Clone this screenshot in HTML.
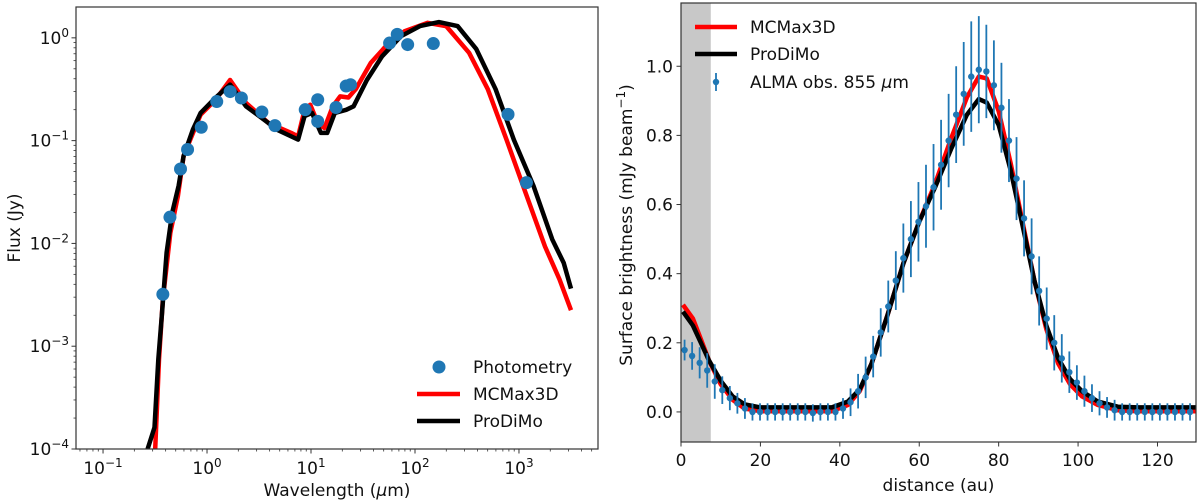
<!DOCTYPE html>
<html><head><meta charset="utf-8"><style>
html,body{margin:0;padding:0;background:#fff;}
svg{display:block;font-family:"DejaVu Sans","Liberation Sans",sans-serif;}
</style></head><body>
<svg id="c" width="1200" height="503" viewBox="0 0 1200 503" xmlns="http://www.w3.org/2000/svg"></svg>
<script>
// ---- SED data (left) ----
const photLam = [0.376,0.44,0.556,0.65,0.88,1.24,1.67,2.14,3.37,4.5,8.8,11.6,11.6,17.4,21.8,24,57,67.5,85,150,785,1180];
const photFlux = [0.0032,0.018,0.053,0.082,0.135,0.24,0.30,0.26,0.19,0.14,0.20,0.25,0.154,0.21,0.34,0.35,0.89,1.08,0.86,0.88,0.18,0.039];
const prodimoLogLam = [-0.571,-0.505,-0.469,-0.433,-0.389,-0.335,-0.273,-0.225,-0.135,-0.062,0.084,0.222,0.375,0.593,0.665,0.876,0.938,1.01,1.095,1.156,1.229,1.338,1.41,1.538,1.684,1.865,2.047,2.23,2.41,2.59,2.775,2.95,3.14,3.32,3.43,3.50];
const prodimoLogFlux = [-4,-3.79,-3.13,-2.68,-2.09,-1.70,-1.44,-1.15,-0.89,-0.73,-0.58,-0.455,-0.666,-0.83,-0.89,-0.99,-0.76,-0.73,-0.925,-0.925,-0.73,-0.70,-0.666,-0.41,-0.18,0.016,0.114,0.153,0.114,-0.11,-0.5,-0.99,-1.44,-1.96,-2.19,-2.44];
const mcmaxLogLam = [-0.498,-0.462,-0.425,-0.353,-0.28,-0.225,-0.135,-0.062,0.084,0.222,0.375,0.593,0.81,0.876,0.938,0.993,1.065,1.13,1.21,1.28,1.36,1.43,1.575,1.72,1.90,2.12,2.30,2.52,2.70,2.88,3.065,3.25,3.39,3.50];
const mcmaxLogFlux = [-4,-3.13,-2.55,-1.90,-1.54,-1.15,-0.925,-0.747,-0.60,-0.41,-0.633,-0.83,-0.925,-0.96,-0.70,-0.65,-0.83,-0.877,-0.666,-0.57,-0.58,-0.50,-0.244,-0.08,0.065,0.146,0.114,-0.146,-0.50,-0.99,-1.51,-2.03,-2.35,-2.65];
const sedXTicks = [-1,0,1,2,3];
const sedYTicks = [-4,-3,-2,-1,0];
// ---- Radial profile data (right) ----
const almaX0 = 0.9, almaStep = 1.9;
const almaVal = [0.179,0.162,0.142,0.12,0.088,0.063,0.04,0.025,0.01,0,0,0,0,0,0,0,0,-0.003,0,0,0,0.01,0.028,0.06,0.10,0.16,0.23,0.305,0.38,0.445,0.50,0.55,0.595,0.65,0.715,0.785,0.86,0.92,0.97,0.99,0.985,0.945,0.88,0.785,0.675,0.56,0.45,0.35,0.27,0.20,0.155,0.115,0.085,0.06,0.04,0.025,0.013,0.005,0,0,0,0,0,0,0,0,0,0];
const almaErr = [0.03,0.04,0.045,0.05,0.05,0.04,0.035,0.03,0.03,0.025,0.025,0.025,0.025,0.025,0.025,0.025,0.025,0.025,0.025,0.025,0.025,0.03,0.04,0.05,0.06,0.06,0.07,0.075,0.085,0.1,0.11,0.115,0.12,0.125,0.13,0.135,0.14,0.15,0.16,0.155,0.135,0.13,0.13,0.12,0.12,0.11,0.11,0.1,0.09,0.08,0.07,0.06,0.05,0.045,0.04,0.035,0.03,0.03,0.025,0.025,0.025,0.025,0.025,0.025,0.025,0.025,0.025,0.025];
const profR = [0.5,3,5,7,10,13,16,20,38,42,45,48,52,56,60,64,68,72,75,77,80,83,86,89,92,95,98,101,105,110,115,130];
const profMcmax = [0.31,0.27,0.21,0.15,0.08,0.035,0.01,0.002,0.002,0.02,0.06,0.14,0.28,0.43,0.55,0.66,0.79,0.91,0.97,0.965,0.87,0.72,0.55,0.38,0.24,0.14,0.08,0.045,0.02,0.005,0.002,0.002];
const profProdimo = [0.29,0.25,0.20,0.15,0.09,0.045,0.022,0.013,0.013,0.03,0.065,0.14,0.28,0.43,0.55,0.65,0.76,0.86,0.905,0.895,0.83,0.70,0.54,0.38,0.25,0.155,0.095,0.06,0.03,0.015,0.013,0.013];
const profXTicks = [0,20,40,60,80,100,120];
const profYTicks = [0,0.2,0.4,0.6,0.8,1.0];

const NS="http://www.w3.org/2000/svg";
const svg=document.getElementById('c');
function mk(tag,attrs,parent){const e=document.createElementNS(NS,tag);for(const k in attrs)e.setAttribute(k,attrs[k]);(parent||svg).appendChild(e);return e;}

// ===== LEFT =====
const L={x0:76,x1:598,y0:7,y1:449};
const lxmin=-1.26,lxmax=3.76,lymin=-4,lymax=0.30;
const lx=v=>L.x0+(v-lxmin)/(lxmax-lxmin)*(L.x1-L.x0);
const ly=v=>L.y1-(v-lymin)/(lymax-lymin)*(L.y1-L.y0);
const gL=mk('g',{});


const clipL=mk('clipPath',{id:'clipL'},svg);mk('rect',{x:L.x0,y:L.y0,width:L.x1-L.x0,height:L.y1-L.y0},clipL);
function path(xs,ys,fx,fy,color,w,clip,parent,name){
  let d='';for(let i=0;i<xs.length;i++)d+=(i?'L':'M')+fx(xs[i]).toFixed(1)+','+fy(ys[i]).toFixed(1);
  const p=mk('path',{d:d,fill:'none',stroke:color,'stroke-width':w,'stroke-linejoin':'round','clip-path':'url(#'+clip+')'},parent);
  
  
  return p;
}
path(mcmaxLogLam,mcmaxLogFlux,lx,ly,'#ff0000',4.5,'clipL',gL,'mcmax3d-sed-line');
path(prodimoLogLam,prodimoLogFlux,lx,ly,'#000000',4.5,'clipL',gL,'prodimo-sed-line');
for(let i=0;i<photLam.length;i++){
  const c=mk('circle',{cx:lx(Math.log10(photLam[i])),cy:ly(Math.log10(photFlux[i])),r:6.5,fill:'#1f77b4'},gL);
  
  
}
// minor ticks
for(let d=-2;d<=3;d++)for(let m=2;m<=9;m++){const v=d+Math.log10(m);if(v>lxmin&&v<lxmax)mk('line',{x1:lx(v),x2:lx(v),y1:L.y1,y2:L.y1+2.5,stroke:'#333','stroke-width':0.8},gL);}
for(let d=-4;d<=0;d++)for(let m=2;m<=9;m++){const v=d+Math.log10(m);if(v>lymin&&v<lymax)mk('line',{x1:L.x0-2.5,x2:L.x0,y1:ly(v),y2:ly(v),stroke:'#333','stroke-width':0.8},gL);}
mk('rect',{x:L.x0,y:L.y0,width:L.x1-L.x0,height:L.y1-L.y0,fill:'none',stroke:'#333','stroke-width':1.2},gL);
for(const t of sedXTicks){
  mk('line',{x1:lx(t),x2:lx(t),y1:L.y1,y2:L.y1+4.5,stroke:'#333','stroke-width':1},gL);
  const tx=mk('text',{x:lx(t),y:L.y1+25,'font-size':17,'text-anchor':'middle',fill:'#111'},gL);
  
  
  tx.innerHTML='10<tspan dy="-7" font-size="12">'+(t<0?'\u2212'+(-t):t)+'</tspan>';
}
for(const t of sedYTicks){
  mk('line',{x1:L.x0-4.5,x2:L.x0,y1:ly(t),y2:ly(t),stroke:'#333','stroke-width':1},gL);
  const tx=mk('text',{x:L.x0-7,y:ly(t)+6,'font-size':17,'text-anchor':'end',fill:'#111'},gL);
  
  
  tx.innerHTML='10<tspan dy="-7" font-size="12">'+(t<0?'\u2212'+(-t):t)+'</tspan>';
}
let t1=mk('text',{x:(L.x0+L.x1)/2,y:496,'font-size':17,'text-anchor':'middle',fill:'#111'},gL);

t1.innerHTML='Wavelength (<tspan font-style="italic">μ</tspan>m)';
let t2=mk('text',{x:20,y:228,'font-size':17,'text-anchor':'middle',fill:'#111',transform:'rotate(-90 20 228)'},gL);

t2.textContent='Flux (Jy)';
// legend left
const lg=mk('g',{},gL);
mk('circle',{cx:439,cy:367,r:6.5,fill:'#1f77b4'},lg);
mk('line',{x1:417,x2:460,y1:394,y2:394,stroke:'#ff0000','stroke-width':4.5},lg);
mk('line',{x1:417,x2:460,y1:421,y2:421,stroke:'#000','stroke-width':4.5},lg);
[['Photometry',373],['MCMax3D',400],['ProDiMo',427]].forEach(a=>{const e=mk('text',{x:473,y:a[1],'font-size':17,fill:'#111'},lg);e.textContent=a[0];});

// ===== RIGHT =====
const R={x0:681,x1:1196,y0:3,y1:442};
const rxmin=0,rxmax=129.7,rymin=-0.087,rymax=1.183;
const rx=v=>R.x0+(v-rxmin)/(rxmax-rxmin)*(R.x1-R.x0);
const ry=v=>R.y1-(v-rymin)/(rymax-rymin)*(R.y1-R.y0);
const gR=mk('g',{});


const clipR=mk('clipPath',{id:'clipR'},svg);mk('rect',{x:R.x0,y:R.y0,width:R.x1-R.x0,height:R.y1-R.y0},clipR);
const band=mk('rect',{x:rx(0),y:R.y0,width:rx(7.5)-rx(0),height:R.y1-R.y0,fill:'#c8c8c8'},gR);

path(profR,profMcmax,rx,ry,'#ff0000',4.5,'clipR',gR,'mcmax3d-profile-line');
path(profR,profProdimo,rx,ry,'#000000',4.5,'clipR',gR,'prodimo-profile-line');
for(let i=0;i<almaVal.length;i++){
  const x=rx(almaX0+almaStep*i);
  const eb=mk('line',{x1:x,x2:x,y1:ry(almaVal[i]-almaErr[i]),y2:ry(almaVal[i]+almaErr[i]),stroke:'#1f77b4','stroke-width':1.8,'clip-path':'url(#clipR)'},gR);
  
  const c=mk('circle',{cx:x,cy:ry(almaVal[i]),r:3.2,fill:'#1f77b4','clip-path':'url(#clipR)'},gR);
  
}
mk('rect',{x:R.x0,y:R.y0,width:R.x1-R.x0,height:R.y1-R.y0,fill:'none',stroke:'#333','stroke-width':1.2},gR);
for(const t of profXTicks){
  mk('line',{x1:rx(t),x2:rx(t),y1:R.y1,y2:R.y1+4.5,stroke:'#333','stroke-width':1},gR);
  const tx=mk('text',{x:rx(t),y:R.y1+24,'font-size':17,'text-anchor':'middle',fill:'#111'},gR);
  
  tx.textContent=t;
}
for(const t of profYTicks){
  mk('line',{x1:R.x0-4.5,x2:R.x0,y1:ry(t),y2:ry(t),stroke:'#333','stroke-width':1},gR);
  const tx=mk('text',{x:R.x0-8,y:ry(t)+6,'font-size':17,'text-anchor':'end',fill:'#111'},gR);
  
  tx.textContent=t.toFixed(1);
}
let t3=mk('text',{x:(R.x0+R.x1)/2,y:491,'font-size':17,'text-anchor':'middle',fill:'#111'},gR);

t3.textContent='distance (au)';
let t4=mk('text',{x:632,y:225,'font-size':17,'text-anchor':'middle',fill:'#111',transform:'rotate(-90 632 225)'},gR);

t4.innerHTML='Surface brightness (mJy beam<tspan dy="-7" font-size="12">\u22121</tspan><tspan dy="7">)</tspan>';
const rg=mk('g',{},gR);
mk('line',{x1:695,x2:737,y1:27,y2:27,stroke:'#ff0000','stroke-width':4.5},rg);
mk('line',{x1:695,x2:737,y1:54,y2:54,stroke:'#000','stroke-width':4.5},rg);
mk('line',{x1:716,x2:716,y1:73,y2:91,stroke:'#1f77b4','stroke-width':1.8},rg);
mk('circle',{cx:716,cy:82,r:3.2,fill:'#1f77b4'},rg);
[['MCMax3D',33],['ProDiMo',60]].forEach(a=>{const e=mk('text',{x:750,y:a[1],'font-size':17,fill:'#111'},rg);e.textContent=a[0];});
const la=mk('text',{x:750,y:88,'font-size':17,fill:'#111'},rg);

la.innerHTML='ALMA obs. 855 <tspan font-style="italic">μ</tspan>m';
</script>
</body></html>
